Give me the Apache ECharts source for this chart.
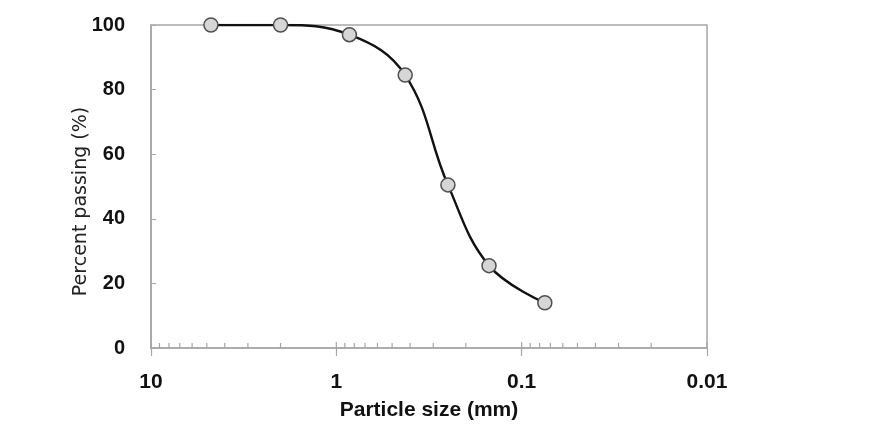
<!DOCTYPE html>
<html>
<head>
<meta charset="utf-8">
<script src="https://cdn.jsdelivr.net/npm/echarts@6/dist/echarts.min.js"></script>
<style>
html,body{margin:0;padding:0;background:#fff;}
#chart{width:888px;height:427px;}
</style>
</head>
<body>
<div id="chart"></div>
<script>
// Data
const particleSize = [4.75, 2, 0.85, 0.425, 0.25, 0.15, 0.075];   // mm
const percentPassing = [100, 100, 97, 84.5, 50.5, 25.5, 14];     // %
const xMajorTicks = [10, 1, 0.1, 0.01];
const xTickLabels = ['10', '1', '0.1', '0.01'];
const xMinorTicks = [9, 8, 7, 6, 5, 4, 3, 2,
                     0.9, 0.8, 0.7, 0.6, 0.5, 0.4, 0.3, 0.2,
                     0.09, 0.08, 0.07, 0.06, 0.05, 0.04, 0.03, 0.02];
const yTicks = [0, 20, 40, 60, 80, 100];

const axisGray = '#a6a6a6';

const chart = echarts.init(document.getElementById('chart'), null, {renderer: 'canvas'});

function labelFor(v) {
  let best = 0, bd = Infinity;
  xMajorTicks.forEach((t, i) => {
    const d = Math.abs(Math.log10(v) - Math.log10(t));
    if (d < bd) { bd = d; best = i; }
  });
  return xTickLabels[best];
}

const tickData = xMajorTicks.map(v => [v, 0, 1]).concat(xMinorTicks.map(v => [v, 0, 0]));

chart.setOption({
  animation: false,
  backgroundColor: '#ffffff',
  grid: {
    left: 151, top: 25, right: 181, bottom: 79,
    show: true, borderColor: axisGray, borderWidth: 1.5, backgroundColor: 'transparent'
  },
  xAxis: {
    type: 'log',
    logBase: 10,
    min: 0.01,
    max: 10,
    inverse: true,
    name: 'Particle size (mm)',
    nameLocation: 'middle',
    nameGap: 52,
    nameMoveOverlap: false,
    nameTextStyle: {fontFamily: 'Liberation Sans', fontWeight: 'bold', fontSize: 21, color: '#111'},
    axisLine: {show: true, lineStyle: {color: axisGray, width: 1.5}},
    axisTick: {show: true, inside: false, length: 8, lineStyle: {color: axisGray, width: 1.2}},
    minorTick: {show: false},
    splitLine: {show: false},
    axisLabel: {
      margin: 24,
      fontFamily: 'Liberation Sans', fontWeight: 'bold', fontSize: 21, color: '#111',
      formatter: v => labelFor(v)
    }
  },
  yAxis: {
    type: 'value',
    min: 0, max: 100, interval: 20,
    name: 'Percent passing (%)',
    nameLocation: 'middle',
    nameGap: 60,
    nameMoveOverlap: false,
    nameTextStyle: {fontFamily: 'DejaVu Sans', fontSize: 19, color: '#222', padding: [0, 30, 0, 0]},
    axisLine: {show: true, lineStyle: {color: axisGray, width: 1.5}},
    axisTick: {show: true, inside: true, length: 5, lineStyle: {color: axisGray, width: 1}},
    splitLine: {show: false},
    axisLabel: {
      margin: 26,
      fontFamily: 'Liberation Sans', fontWeight: 'bold', fontSize: 20, color: '#111',
      formatter: v => yTicks.indexOf(v) >= 0 ? String(v) : ''
    }
  },
  series: [
    {
      type: 'custom',
      silent: true,
      clip: false,
      z: 1,
      data: tickData,
      renderItem: function (params, api) {
        const p = api.coord([api.value(0), api.value(1)]);
        const len = api.value(2) ? 6 : 5;
        return {
          type: 'line',
          shape: {x1: p[0], y1: p[1], x2: p[0], y2: p[1] - len},
          style: {stroke: axisGray, lineWidth: 1.2}
        };
      }
    },
    {
      type: 'line',
      data: particleSize.map((x, i) => [x, percentPassing[i]]),
      smooth: 0.4,
      symbol: 'circle',
      symbolSize: 14,
      z: 5,
      lineStyle: {color: '#111', width: 2.4},
      itemStyle: {color: '#d6d6d6', borderColor: '#505050', borderWidth: 1.5}
    }
  ]
});
</script>
</body>
</html>
